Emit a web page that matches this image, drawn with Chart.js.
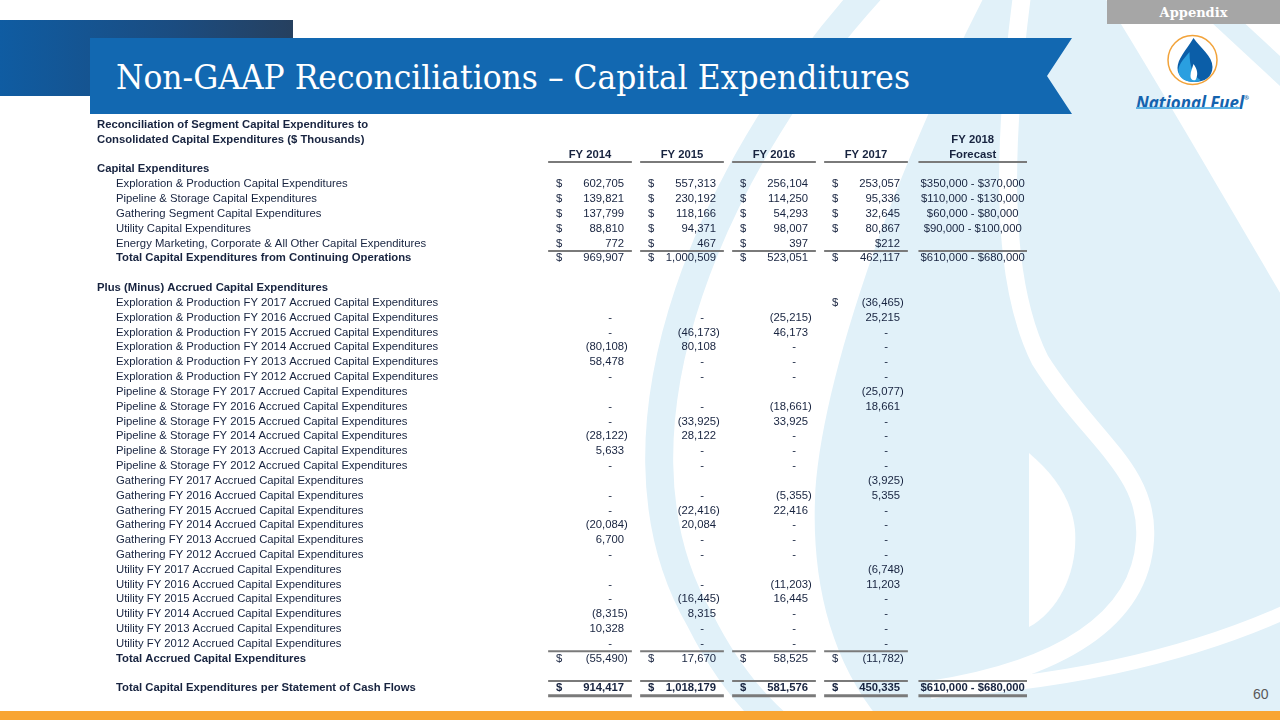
<!DOCTYPE html>
<html>
<head>
<meta charset="utf-8">
<title>Non-GAAP Reconciliations – Capital Expenditures</title>
<script src="https://cdn.jsdelivr.net/npm/chart.js@4.4.1/dist/chart.umd.min.js"></script>
<style>
  html, body { margin: 0; padding: 0; background: #fff; }
  #slide { position: relative; width: 1280px; height: 720px; overflow: hidden; background: #fff; }
  #bg { position: absolute; left: 0; top: 0; }
  #title { position: absolute; left: 116px; top: 56px; height: 42px; line-height: 42px; white-space: nowrap;
           font-family: "DejaVu Serif", serif; font-size: 34px; color: #fff; transform-origin: 0 50%; }
  #appendix { position: absolute; left: 1107px; top: 0; width: 173px; height: 24px; line-height: 25px; text-align: center;
              background: #a6a6a6; color: #fff; font-family: "DejaVu Serif", serif; font-weight: bold; font-size: 13px; }
  #brand { position: absolute; left: 1136px; top: 88px; white-space: nowrap; font-family: "Open Sans", sans-serif;
           font-weight: 700; font-style: italic; font-size: 17px; line-height: 20px; color: #1463ae; transform-origin: 0 50%; }
  #brand sup { font-size: 6px; vertical-align: 9px; }
  #brandline { position: absolute; left: 1136px; top: 107px; width: 104px; height: 2px; background: #5cb2e4; }
  #page { position: absolute; left: 1253px; top: 686px; font-family: "Liberation Sans", Arial, sans-serif; font-size: 14px; color: #595959; }
  #table { position: absolute; left: 97px; top: 110px; }
</style>
</head>
<body>
<div id="slide">
  <svg id="bg" width="1280" height="720" viewBox="0 0 1280 720">
    <defs>
      <linearGradient id="dk" x1="0" y1="0" x2="1" y2="0">
        <stop offset="0" stop-color="#0f5ca2"/>
        <stop offset="0.6" stop-color="#1b4c80"/>
        <stop offset="1" stop-color="#26405f"/>
      </linearGradient>
    </defs>
    <!-- watermark flame -->
    <g fill="none" stroke="#e1f1f9">
      <path d="M880,-20 C720,150 590,430 700,620 C740,700 790,740 830,760" stroke-width="28"/>
      <path d="M1212,8 L1292,82" stroke-width="22"/>
    </g>
    <path d="M985,-5 L1103,-5 C1150,70 1220,190 1290,310 L1290,720 L880,720 C830,660 812,580 815,500 C818,400 880,200 985,-5 Z" fill="#e1f1f9"/>
    <g fill="none" stroke="#fff">
      <path d="M1022,-5 C1002,150 1000,280 1040,360 C1090,440 1150,470 1145,540 C1140,620 1060,670 930,690" stroke-width="18"/>
      <path d="M930,690 C1050,685 1180,660 1290,610" stroke-width="14"/>
    </g>
    <path d="M1029,453 L1029,627 C1060,610 1078,570 1075,530 C1072,500 1055,475 1029,453 Z" fill="#fff"/>
    <!-- header shapes -->
    <rect x="0" y="20" width="293" height="76" fill="url(#dk)"/>
    <polygon points="90,38 1072,38 1047,76 1072,114 90,114" fill="#1268b1"/>
    <rect x="0" y="711" width="1280" height="9" fill="#f8a533"/>
    <!-- logo -->
    <g transform="translate(1192.5,60)">
      <circle r="24.5" fill="#fff" stroke="#f2a33a" stroke-width="1.5"/>
      <path d="M1,-22 C8,-12 20,-4 20,7 C20,17 12,22 2,22 C-8,22 -15,16 -15,8 C-15,-1 -7,-9 1,-22 Z" fill="#0b5ea8"/>
      <path d="M-3,-8 C-10,0 -15,6 -14,12 C-13,19 -6,22 2,22 C5,22 7,21 8,20 C1,16 -3,8 -3,-8 Z" fill="#2a9fe0"/>
      <path d="M1,4 C5,9 6,15 3,20 C0,21 -2,19 -2,16 C-2,11 0,8 1,4 Z" fill="#fff"/>
    </g>
  </svg>
  <div id="title">Non-GAAP Reconciliations – Capital Expenditures</div>
  <div id="appendix">Appendix</div>
  <div id="brand">National Fuel<sup>®</sup></div>
  <div id="brandline"></div>
  <div id="page">60</div>
  <canvas id="table" width="943" height="608"></canvas>
</div>
<script>
const titleLines = [
  'Reconciliation of Segment Capital Expenditures to',
  'Consolidated Capital Expenditures ($ Thousands)'
];
const headers = ['FY 2014', 'FY 2015', 'FY 2016', 'FY 2017', ['FY 2018', 'Forecast']];

const rowLabels = [
  'Capital Expenditures',
  'Exploration & Production Capital Expenditures',
  'Pipeline & Storage Capital Expenditures',
  'Gathering Segment Capital Expenditures',
  'Utility Capital Expenditures',
  'Energy Marketing, Corporate & All Other Capital Expenditures',
  'Total Capital Expenditures from Continuing Operations',
  '',
  'Plus (Minus) Accrued Capital Expenditures',
  'Exploration & Production FY 2017 Accrued Capital Expenditures',
  'Exploration & Production FY 2016 Accrued Capital Expenditures',
  'Exploration & Production FY 2015 Accrued Capital Expenditures',
  'Exploration & Production FY 2014 Accrued Capital Expenditures',
  'Exploration & Production FY 2013 Accrued Capital Expenditures',
  'Exploration & Production FY 2012 Accrued Capital Expenditures',
  'Pipeline & Storage FY 2017 Accrued Capital Expenditures',
  'Pipeline & Storage FY 2016 Accrued Capital Expenditures',
  'Pipeline & Storage FY 2015 Accrued Capital Expenditures',
  'Pipeline & Storage FY 2014 Accrued Capital Expenditures',
  'Pipeline & Storage FY 2013 Accrued Capital Expenditures',
  'Pipeline & Storage FY 2012 Accrued Capital Expenditures',
  'Gathering FY 2017 Accrued Capital Expenditures',
  'Gathering FY 2016 Accrued Capital Expenditures',
  'Gathering FY 2015 Accrued Capital Expenditures',
  'Gathering FY 2014 Accrued Capital Expenditures',
  'Gathering FY 2013 Accrued Capital Expenditures',
  'Gathering FY 2012 Accrued Capital Expenditures',
  'Utility FY 2017 Accrued Capital Expenditures',
  'Utility FY 2016 Accrued Capital Expenditures',
  'Utility FY 2015 Accrued Capital Expenditures',
  'Utility FY 2014 Accrued Capital Expenditures',
  'Utility FY 2013 Accrued Capital Expenditures',
  'Utility FY 2012 Accrued Capital Expenditures',
  'Total Accrued Capital Expenditures',
  '',
  'Total Capital Expenditures per Statement of Cash Flows'
];

// null = empty cell, 0 = shown as a dash
const fy2014 = [null, 602705, 139821, 137799, 88810, 772, 969907, null, null,
  null, 0, 0, -80108, 58478, 0,
  null, 0, 0, -28122, 5633, 0,
  null, 0, 0, -20084, 6700, 0,
  null, 0, 0, -8315, 10328, 0,
  -55490, null, 914417];
const fy2015 = [null, 557313, 230192, 118166, 94371, 467, 1000509, null, null,
  null, 0, -46173, 80108, 0, 0,
  null, 0, -33925, 28122, 0, 0,
  null, 0, -22416, 20084, 0, 0,
  null, 0, -16445, 8315, 0, 0,
  17670, null, 1018179];
const fy2016 = [null, 256104, 114250, 54293, 98007, 397, 523051, null, null,
  null, -25215, 46173, 0, 0, 0,
  null, -18661, 33925, 0, 0, 0,
  null, -5355, 22416, 0, 0, 0,
  null, -11203, 16445, 0, 0, 0,
  58525, null, 581576];
const fy2017 = [null, 253057, 95336, 32645, 80867, 212, 462117, null, null,
  -36465, 25215, 0, 0, 0, 0,
  -25077, 18661, 0, 0, 0, 0,
  -3925, 5355, 0, 0, 0, 0,
  -6748, 11203, 0, 0, 0, 0,
  -11782, null, 450335];
const fy2018Low = [null, 350000, 110000, 60000, 90000, null, 610000];
const fy2018High = [null, 370000, 130000, 80000, 100000, null, 680000];
fy2018Low[35] = 610000;
fy2018High[35] = 680000;

// row formatting
const sectionRows = [0, 8];
const boldRows = [0, 6, 8, 33, 35];
const boldValueRows = [35];
const dollarRows = [1, 2, 3, 4, 5, 6, 9, 33, 35];
const inlineDollar = [[5, 3]];   // [row, column] where "$" sits against the number

const colX = [1, 2, 3, 4, 5.16];
const textColor = '#17233f';
const fontR = '11.3px "Liberation Sans", Arial, sans-serif';
const fontB = 'bold 11.3px "Liberation Sans", Arial, sans-serif';
const rules = [
  { at: -0.5, cols: 5, w: 2 },
  { at: 5.5, cols: 5, w: 2 },
  { at: 32.5, cols: 4, w: 2 },
  { at: 34.5, cols: 5, w: 2 },
  { at: 35.5, cols: 5, w: 3 }
];

const fmt = n => n.toLocaleString('en-US');

function cells(values, c) {
  const pts = [];
  values.forEach((v, i) => {
    if (v !== null && v !== undefined) pts.push({ x: colX[c], y: i, v: v });
  });
  return pts;
}
const forecastCells = [];
fy2018Low.forEach((lo, i) => {
  if (lo != null) forecastCells.push({ x: colX[4], y: i, lo: lo, hi: fy2018High[i] });
});

const tablePlugin = {
  id: 'tableCells',
  afterDatasetsDraw(chart) {
    const { ctx, chartArea, scales: { x, y } } = chart;
    const unit = x.getPixelForValue(1) - x.getPixelForValue(0);
    ctx.save();
    ctx.fillStyle = textColor;
    ctx.textBaseline = 'middle';

    ctx.font = fontB;
    ctx.textAlign = 'left';
    titleLines.forEach((t, i) => ctx.fillText(t, chartArea.left, y.getPixelForValue(i - 3)));

    ctx.textAlign = 'center';
    headers.forEach((h, c) => {
      const lines = Array.isArray(h) ? h : [h];
      lines.forEach((ln, k) => ctx.fillText(ln, x.getPixelForValue(colX[c]), y.getPixelForValue(k - lines.length)));
    });

    ctx.textAlign = 'left';
    rowLabels.forEach((lab, i) => {
      ctx.font = boldRows.includes(i) ? fontB : fontR;
      ctx.fillText(lab, chartArea.left + (sectionRows.includes(i) ? 0 : 19), y.getPixelForValue(i));
    });

    ctx.strokeStyle = '#7a7a7a';
    rules.forEach(r => {
      const py = y.getPixelForValue(r.at);
      ctx.lineWidth = r.w;
      for (let c = 0; c < r.cols; c++) {
        const hw = c === 4 ? 0.59 : 0.455;
        ctx.beginPath();
        ctx.moveTo(x.getPixelForValue(colX[c] - hw), py);
        ctx.lineTo(x.getPixelForValue(colX[c] + hw), py);
        ctx.stroke();
      }
    });

    chart.data.datasets.forEach((ds, di) => {
      const meta = chart.getDatasetMeta(di);
      meta.data.forEach((pt, j) => {
        const cell = ds.data[j];
        const row = cell.y;
        ctx.font = boldValueRows.includes(row) ? fontB : fontR;
        if (di === 4) {
          ctx.textAlign = 'center';
          ctx.fillText('$' + fmt(cell.lo) + ' - $' + fmt(cell.hi), pt.x, pt.y);
          return;
        }
        const right = pt.x + 0.37 * unit;
        const inline = inlineDollar.some(d => d[0] === row && d[1] === di);
        if (dollarRows.includes(row) && !inline) {
          ctx.textAlign = 'left';
          ctx.fillText('$', pt.x - 0.37 * unit, pt.y);
        }
        ctx.textAlign = 'right';
        if (cell.v === 0) {
          ctx.fillText('-', right - 12, pt.y);
        } else if (cell.v < 0) {
          ctx.fillText('(' + fmt(-cell.v) + ')', right + ctx.measureText(')').width, pt.y);
        } else {
          ctx.fillText((inline ? '$' : '') + fmt(cell.v), right, pt.y);
        }
      });
    });
    ctx.restore();
  }
};

const columns = [fy2014, fy2015, fy2016, fy2017];
const datasets = columns.map((vals, c) => ({ label: headers[c], data: cells(vals, c) }));
datasets.push({ label: 'FY 2018 Forecast', data: forecastCells });

new Chart(document.getElementById('table'), {
  type: 'scatter',
  data: { datasets: datasets },
  options: {
    responsive: false,
    animation: false,
    events: [],
    layout: { padding: 0 },
    elements: { point: { radius: 0, hoverRadius: 0 } },
    plugins: { legend: { display: false }, tooltip: { enabled: false } },
    scales: {
      x: { type: 'linear', display: false, min: -4.3587, max: 5.8913 },
      y: { type: 'linear', display: false, reverse: true, min: -4, max: 37 }
    }
  },
  plugins: [tablePlugin]
});

// fit the title and brand text to the widths on the slide
function fitWidth(id, target) {
  const el = document.getElementById(id);
  const w = el.getBoundingClientRect().width;
  if (w > 0) el.style.transform = 'scaleX(' + (target / w) + ')';
}
fitWidth('title', 794);
fitWidth('brand', 113);
</script>
</body>
</html>
